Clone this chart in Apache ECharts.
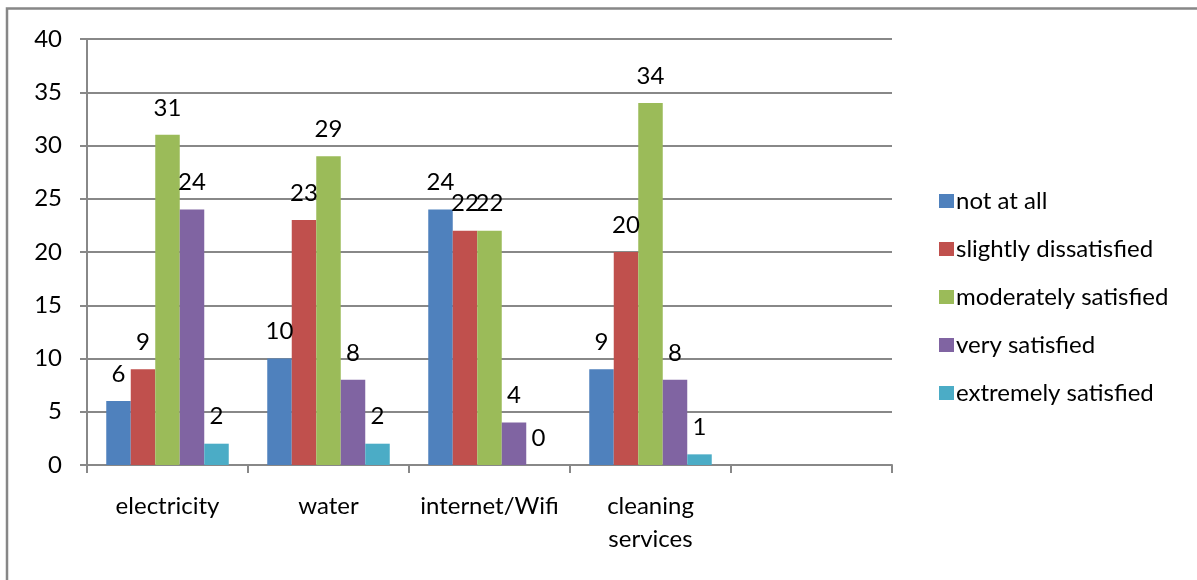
<!DOCTYPE html>
<html>
<head>
<meta charset="utf-8">
<script src="https://cdn.jsdelivr.net/npm/echarts@6/dist/echarts.min.js"></script>
<style>
  html, body { margin: 0; padding: 0; background: #fff; }
  #chart { width: 1197px; height: 580px; }
</style>
</head>
<body>
<div id="chart"></div>
<script>
// Satisfaction with campus facilities, counts per response level
const categories = ['electricity', 'water', 'internet/Wifi', 'cleaning\nservices', ''];
const notAtAll = [6, 10, 24, 9, null];
const slightlyDissatisfied = [9, 23, 22, 20, null];
const moderatelySatisfied = [31, 29, 22, 34, null];
const verySatisfied = [24, 8, 4, 8, null];
const extremelySatisfied = [2, 2, 0, 1, null];
const yTicks = { min: 0, max: 40, interval: 5 };

const FONT = 'Lato';
const GRID = '#888888';

const seriesDefs = [
  { name: 'not at all', data: notAtAll, color: '#4F81BD' },
  { name: 'slightly dissatisfied', data: slightlyDissatisfied, color: '#C0504D' },
  { name: 'moderately satisfied', data: moderatelySatisfied, color: '#9BBB59' },
  { name: 'very satisfied', data: verySatisfied, color: '#8064A2' },
  { name: 'extremely satisfied', data: extremelySatisfied, color: '#4BACC6' }
];

const chart = echarts.init(document.getElementById('chart'), null, { renderer: 'canvas' });

chart.setOption({
  animation: false,
  backgroundColor: '#ffffff',
  textStyle: { fontFamily: FONT },
  graphic: [{
    type: 'rect',
    shape: { x: 7, y: 8.5, width: 1210, height: 600 },
    style: { fill: 'none', stroke: '#878787', lineWidth: 2.5 },
    silent: true
  }],
  grid: { left: 87, right: 305, top: 39, bottom: 115, containLabel: false },
  legend: {
    orient: 'vertical',
    left: 934,
    top: 184,
    itemWidth: 15,
    itemHeight: 14,
    itemGap: 24,
    icon: 'rect',
    textStyle: { fontFamily: FONT, fontSize: 24, color: '#000', lineHeight: 24, padding: [0, 0, 0, -3] },
    data: seriesDefs.map(s => s.name)
  },
  xAxis: {
    type: 'category',
    data: categories,
    axisLine: { lineStyle: { color: GRID, width: 2 } },
    axisTick: { show: true, length: 8, lineStyle: { color: GRID, width: 2 } },
    axisLabel: {
      interval: 0,
      margin: 25,
      fontFamily: FONT,
      fontSize: 24,
      lineHeight: 33,
      color: '#000'
    },
    splitLine: { show: false }
  },
  yAxis: {
    type: 'value',
    min: yTicks.min,
    max: yTicks.max,
    interval: yTicks.interval,
    axisLine: { show: true, lineStyle: { color: GRID, width: 2 } },
    axisTick: { show: true, length: 7, lineStyle: { color: GRID, width: 2 } },
    axisLabel: { margin: 25, fontFamily: FONT, fontSize: 24, color: '#000' },
    splitLine: { show: true, lineStyle: { color: GRID, width: 2 } }
  },
  series: seriesDefs.map(s => ({
    name: s.name,
    type: 'bar',
    data: s.data,
    barWidth: 24.5,
    barGap: '0%',
    itemStyle: { color: s.color },
    label: {
      show: true,
      position: 'top',
      distance: 15,
      fontFamily: FONT,
      fontSize: 24,
      lineHeight: 24,
      color: '#000'
    }
  }))
});
</script>
</body>
</html>
